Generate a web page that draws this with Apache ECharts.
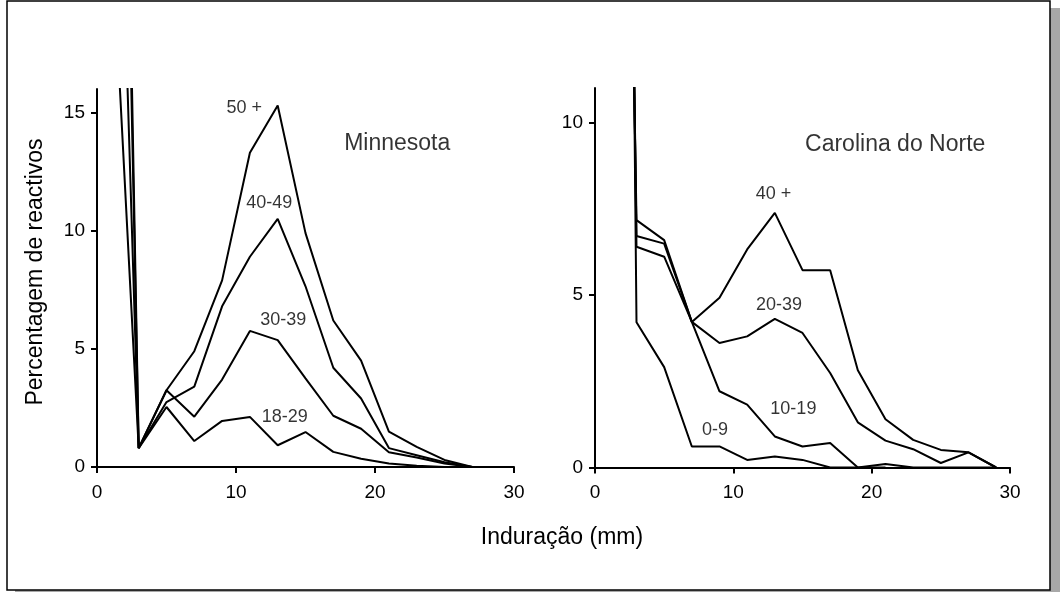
<!DOCTYPE html>
<html>
<head>
<meta charset="utf-8">
<script src="https://cdn.jsdelivr.net/npm/echarts@6/dist/echarts.min.js"></script>
<style>
html,body{margin:0;padding:0;background:#fff;}
#c{width:1060px;height:592px;}
</style>
</head>
<body>
<div id="c"></div>
<script>
// ---- data ----
const xMN = [1, 3, 5, 7, 9, 11, 13, 15, 17, 19, 21, 23, 25, 27];
const mn50 = [23.3, 0.8, 3.25, 4.9, 7.9, 13.3, 15.3, 9.9, 6.2, 4.5, 1.5, 0.85, 0.3, 0];
const mn40 = [38.8, 0.8, 2.75, 3.4, 6.8, 8.9, 10.5, 7.65, 4.2, 2.9, 0.8, 0.5, 0.2, 0];
const mn30 = [58, 0.8, 3.25, 2.13, 3.7, 5.76, 5.37, 3.75, 2.17, 1.62, 0.62, 0.4, 0.15, 0];
const mn18 = [64, 0.8, 2.54, 1.1, 1.95, 2.12, 0.92, 1.48, 0.64, 0.35, 0.15, 0.05, 0, 0];

const xNC = [1, 3, 5, 7, 9, 11, 13, 15, 17, 19, 21, 23, 25, 27, 29];
const nc40 = [55, 7.17, 6.59, 4.22, 4.92, 6.32, 7.38, 5.72, 5.72, 2.82, 1.4, 0.8, 0.51, 0.44, 0];
const nc20 = [60, 6.71, 6.49, 4.22, 3.61, 3.8, 4.31, 3.9, 2.74, 1.31, 0.78, 0.53, 0.13, 0.44, 0];
const nc10 = [65, 6.4, 6.11, 4.22, 2.21, 1.82, 0.9, 0.61, 0.71, 0, 0.1, 0, 0, 0, 0];
const nc0  = [85, 4.21, 2.91, 0.61, 0.61, 0.22, 0.32, 0.22, 0, 0, 0];

// series labels: [x, y, text]
const mnLabels = [[10.6, 15.2, '50 +'], [12.4, 11.16, '40-49'], [13.4, 6.2, '30-39'], [13.5, 2.12, '18-29']];
const ncLabels = [[12.9, 7.92, '40 +'], [13.3, 4.72, '20-39'], [14.34, 1.7, '10-19'], [8.68, 1.09, '0-9']];
const panelTitles = [[21.6, 13.7, 'Minnesota'], [21.7, 9.37, 'Carolina do Norte']];

const yTicksMN = [0, 5, 10, 15];
const yTicksNC = [0, 5, 10];
const xTitle = 'Induração (mm)';
const yTitle = 'Percentagem de reactivos';

// ---- chart ----
const FONT = '"Liberation Sans", Arial, Helvetica, sans-serif';
const chart = echarts.init(document.getElementById('c'), null, {renderer: 'canvas'});

function pairs(xs, ys) { return ys.map((v, i) => [xs[i], v]); }

function lineSeries(xs, ys, gi) {
  return {
    type: 'line', xAxisIndex: gi, yAxisIndex: gi,
    data: pairs(xs, ys), symbol: 'none', clip: true, silent: true,
    lineStyle: {color: '#000', width: 2}, z: 3
  };
}
function labelSeries(items, gi, size) {
  return {
    type: 'scatter', xAxisIndex: gi, yAxisIndex: gi, symbolSize: 0, silent: true,
    data: items.map(d => [d[0], d[1], d[2]]),
    label: {show: true, position: 'inside', formatter: p => p.data[2],
      color: '#000', fontSize: size, fontFamily: FONT},
    z: 5
  };
}
function xAxis(gi) {
  return {
    type: 'value', gridIndex: gi, min: 0, max: 30, interval: 10,
    axisLine: {onZero: false, lineStyle: {color: '#000', width: 2}},
    axisTick: {length: 6, lineStyle: {color: '#000', width: 2}},
    axisLabel: {color: '#000', fontSize: 19, fontFamily: FONT, margin: 16},
    splitLine: {show: false}
  };
}
function yAxis(gi, max, ticks) {
  return {
    type: 'value', gridIndex: gi, min: 0, max: max, interval: 5,
    axisLine: {show: true, lineStyle: {color: '#000', width: 2}},
    axisTick: {show: true, length: 6, customValues: ticks, lineStyle: {color: '#000', width: 2}},
    axisLabel: {color: '#000', fontSize: 19, fontFamily: FONT, margin: 12, customValues: ticks},
    splitLine: {show: false}
  };
}

const option = {
  animation: false,
  backgroundColor: '#fff',
  graphic: [
    {type: 'rect', silent: true, z: -10, shape: {x: 15, y: 8, width: 1045, height: 584}, style: {fill: '#a8a8a8'}},
    {type: 'rect', silent: true, z: -9, shape: {x: 7, y: 1, width: 1043, height: 589}, style: {fill: '#fff', stroke: '#000', lineWidth: 1.5}},
    {type: 'text', silent: true, z: 10, x: 562, y: 538,
      style: {text: xTitle, fill: '#000', font: '23px ' + FONT, align: 'center', verticalAlign: 'middle'}},
    {type: 'text', silent: true, z: 10, x: 36, y: 272, rotation: Math.PI / 2,
      style: {text: yTitle, fill: '#000', font: '23px ' + FONT, align: 'center', verticalAlign: 'middle'}}
  ],
  grid: [
    {left: 97, top: 89, width: 417, height: 378, outerBoundsMode: 'none'},
    {left: 595, top: 88, width: 415, height: 379.5, outerBoundsMode: 'none'}
  ],
  xAxis: [xAxis(0), xAxis(1)],
  yAxis: [yAxis(0, 16, yTicksMN), yAxis(1, 11, yTicksNC)],
  series: [
    lineSeries(xMN, mn50, 0), lineSeries(xMN, mn40, 0), lineSeries(xMN, mn30, 0), lineSeries(xMN, mn18, 0),
    lineSeries(xNC, nc40, 1), lineSeries(xNC, nc20, 1), lineSeries(xNC, nc10, 1), lineSeries(xNC, nc0, 1),
    labelSeries(mnLabels, 0, 18), labelSeries(ncLabels, 1, 18),
    labelSeries([panelTitles[0]], 0, 23), labelSeries([panelTitles[1]], 1, 23)
  ]
};
chart.setOption(option);
</script>
</body>
</html>
